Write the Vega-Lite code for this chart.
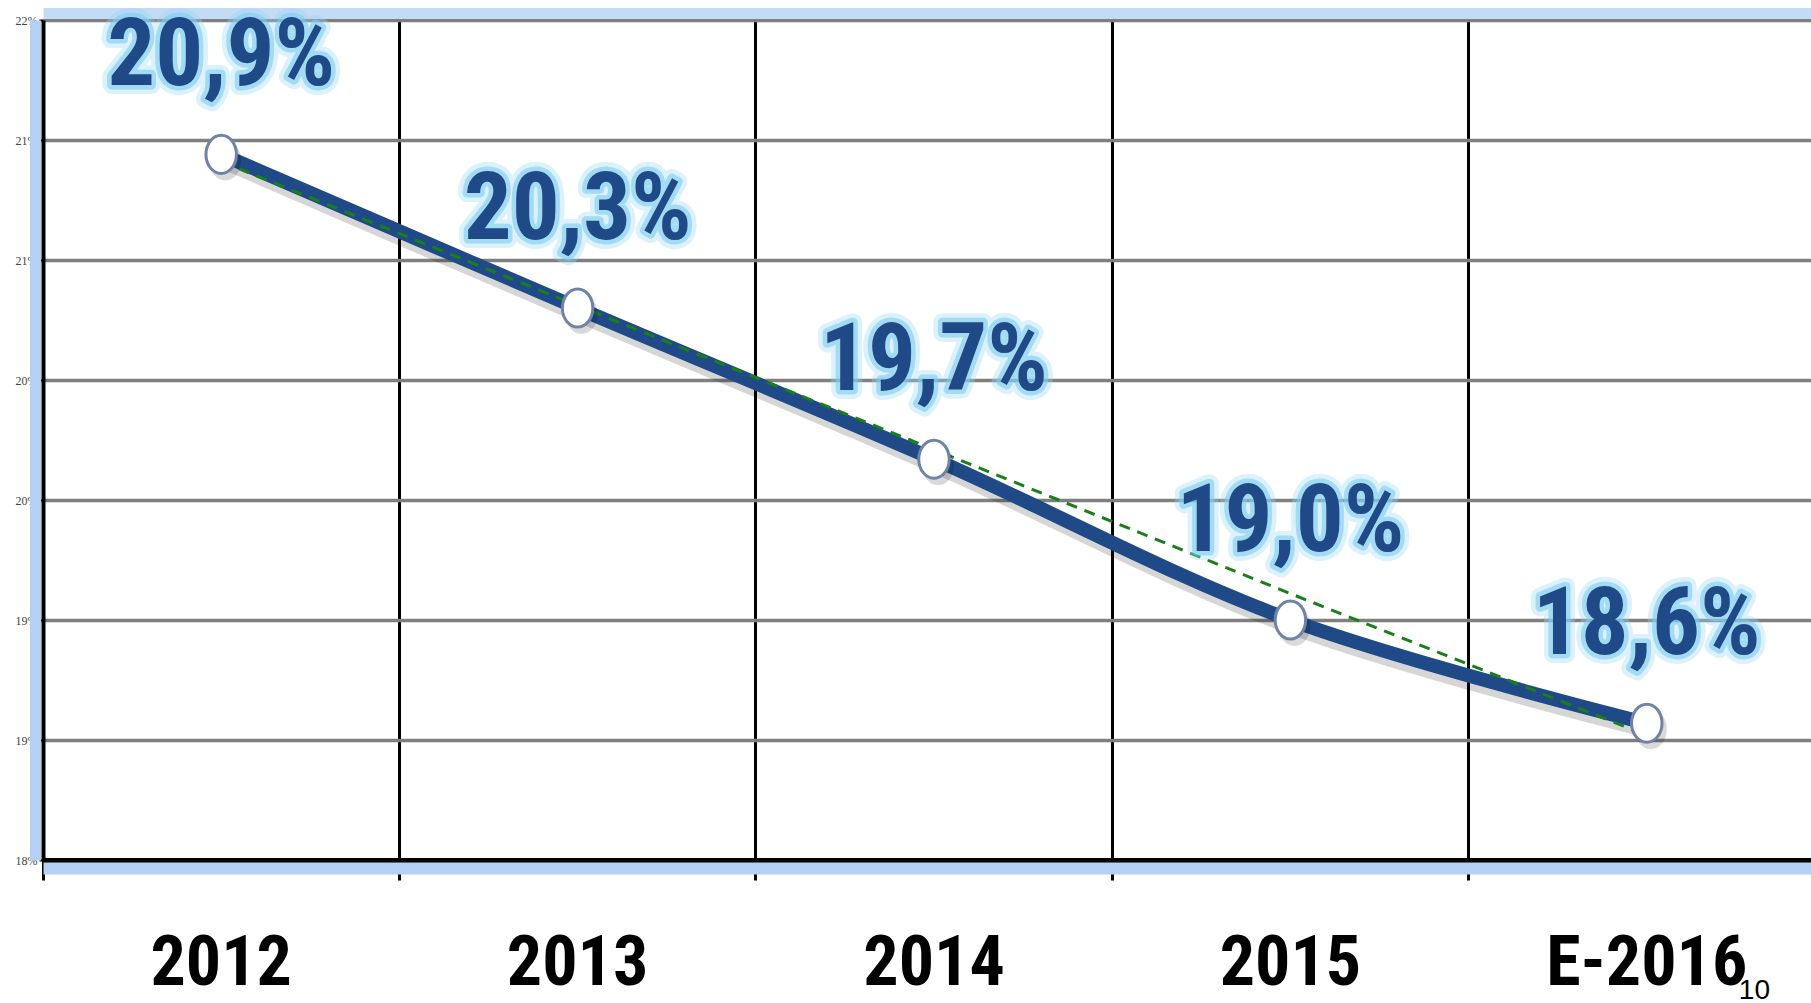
{
  "$schema": "https://vega.github.io/schema/vega-lite/v6.json",
  "autosize": {"type": "none"},
  "padding": {"left": 43, "top": 20, "right": 0, "bottom": 143},
  "width": 1768,
  "height": 840,
  "background": "white",
  "config": {"view": {"stroke": null}},
  "title": {"text": "10", "orient": "bottom", "anchor": "end", "fontSize": 28, "font": "Liberation Sans", "fontWeight": "normal", "color": "#000000", "dx": -55, "offset": -21},
  "data": {"values": [
    {"year": "2012", "value": 20.94, "trend": 20.91, "label": "20,9%"},
    {"year": "2013", "value": 20.30, "trend": 20.31, "label": "20,3%"},
    {"year": "2014", "value": 19.67, "trend": 19.71, "label": "19,7%"},
    {"year": "2015", "value": 19.00, "trend": 19.11, "label": "19,0%"},
    {"year": "E-2016", "value": 18.57, "trend": 18.52, "label": "18,6%"}
  ]},
  "resolve": {"axis": {"x": "independent", "y": "independent"}},
  "layer": [
    {
      "mark": {"type": "line", "interpolate": "catmull-rom", "color": "#000000", "opacity": 0.16, "strokeWidth": 16, "xOffset": 3, "yOffset": 7},
      "encoding": {
        "x": {"field": "year", "type": "nominal", "sort": null, "scale": {"type": "band", "paddingInner": 0, "paddingOuter": 0, "range": [0, 1782]},
          "axis": {"orient": "bottom", "title": null, "bandPosition": 0, "labelAngle": 0, "labelLimit": 0, "grid": true, "gridColor": "#000000", "gridWidth": 3, "gridOpacity": 1, "ticks": true, "tickColor": "#000000", "tickWidth": 3, "tickSize": 20, "domain": true, "domainColor": "#000000", "domainWidth": 5, "labelFont": "Roboto Condensed, Liberation Sans", "labelFontWeight": "bold", "labelFontSize": 70, "labelColor": "#000000", "labelPadding": 49, "labelOverlap": false}},
        "y": {"field": "value", "type": "quantitative", "scale": {"domain": [18, 21.5], "nice": false, "zero": false},
          "axis": {"orient": "left", "title": null, "values": [18, 18.5, 19, 19.5, 20, 20.5, 21, 21.5], "labelExpr": "round(datum.value) + '%'", "grid": true, "gridColor": "#7f7f7f", "gridWidth": 3.5, "gridOpacity": 1, "domain": true, "domainColor": "#000000", "domainWidth": 4, "ticks": true, "tickColor": "#000000", "tickSize": 4, "tickWidth": 2, "labelFont": "Liberation Serif", "labelFontSize": 12, "labelColor": "#444444", "labelPadding": 2}}
      }
    },
    {
      "mark": {"type": "line", "interpolate": "catmull-rom", "color": "#1f4a87", "strokeWidth": 14},
      "encoding": {
        "x": {"field": "year", "type": "nominal", "sort": null, "axis": {"orient": "bottom", "offset": 8, "labels": false, "ticks": false, "grid": false, "title": null, "domainColor": "#b4d1f3", "domainWidth": 12}},
        "y": {"field": "value", "type": "quantitative", "axis": {"orient": "left", "offset": 8, "labels": false, "ticks": false, "grid": false, "title": null, "domainColor": "#b4d1f3", "domainWidth": 11}}
      }
    },
    {
      "mark": {"type": "line", "color": "#1a7f1a", "strokeWidth": 3, "strokeDash": [11, 8]},
      "encoding": {
        "x": {"field": "year", "type": "nominal", "sort": null, "axis": {"orient": "top", "offset": 7, "labels": false, "ticks": false, "grid": false, "title": null, "domainColor": "#c4dbf6", "domainWidth": 11}},
        "y": {"field": "trend", "type": "quantitative", "axis": null}
      }
    },
    {
      "mark": {"type": "point", "shape": "M -0.8,0 A 0.8,1 0 1,0 0.8,0 A 0.8,1 0 1,0 -0.8,0 Z", "size": 1600, "filled": true, "fill": "#000000", "opacity": 0.15, "xOffset": 4, "yOffset": 6},
      "encoding": {
        "x": {"field": "year", "type": "nominal", "sort": null, "axis": null},
        "y": {"field": "value", "type": "quantitative", "axis": null}
      }
    },
    {
      "mark": {"type": "point", "shape": "M -0.8,0 A 0.8,1 0 1,0 0.8,0 A 0.8,1 0 1,0 -0.8,0 Z", "size": 1450, "filled": true, "fill": "#ffffff", "stroke": "#6f83a8", "strokeWidth": 3, "opacity": 1},
      "encoding": {
        "x": {"field": "year", "type": "nominal", "sort": null, "axis": null},
        "y": {"field": "value", "type": "quantitative", "axis": null}
      }
    },
    {
      "mark": {"type": "text", "dy": -98, "baseline": "middle", "align": "center", "font": "Roboto Condensed, Liberation Sans", "fontWeight": "bold", "fontSize": 95, "fill": "#9ad8f5", "stroke": "#9ad8f5", "strokeWidth": 18, "strokeJoin": "round", "opacity": 0.35},
      "encoding": {
        "x": {"field": "year", "type": "nominal", "sort": null, "axis": null},
        "y": {"field": "value", "type": "quantitative", "axis": null},
        "text": {"field": "label"}
      }
    },
    {
      "mark": {"type": "text", "dy": -98, "baseline": "middle", "align": "center", "font": "Roboto Condensed, Liberation Sans", "fontWeight": "bold", "fontSize": 95, "fill": "#7fcdf2", "stroke": "#7fcdf2", "strokeWidth": 9, "strokeJoin": "round", "opacity": 0.6},
      "encoding": {
        "x": {"field": "year", "type": "nominal", "sort": null, "axis": null},
        "y": {"field": "value", "type": "quantitative", "axis": null},
        "text": {"field": "label"}
      }
    },
    {
      "mark": {"type": "text", "dy": -98, "baseline": "middle", "align": "center", "font": "Roboto Condensed, Liberation Sans", "fontWeight": "bold", "fontSize": 95, "fill": "#1f4a87"},
      "encoding": {
        "x": {"field": "year", "type": "nominal", "sort": null, "axis": null},
        "y": {"field": "value", "type": "quantitative", "axis": null},
        "text": {"field": "label"}
      }
    }
  ]
}
